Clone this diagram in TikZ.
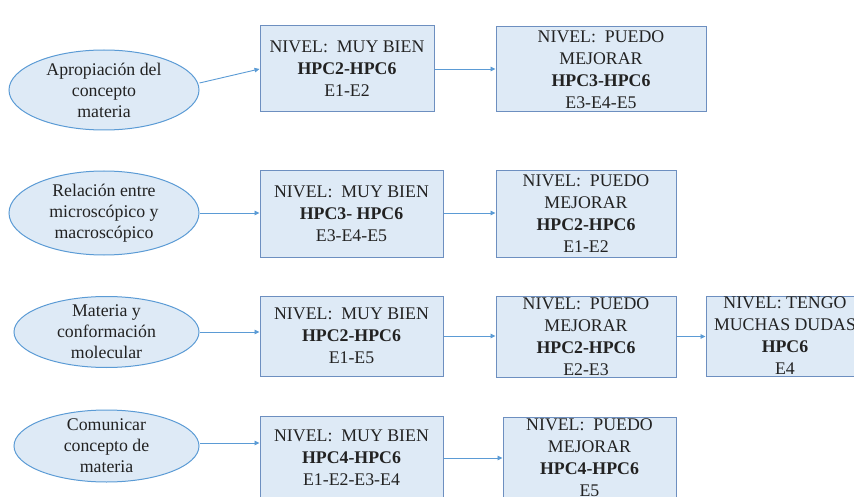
\documentclass[tikz,border=0pt]{standalone}
\usepackage{fontspec}
\setmainfont{Liberation Serif}
\usetikzlibrary{arrows.meta,shapes.geometric}
\definecolor{fillc}{HTML}{DEEAF6}
\definecolor{boxline}{HTML}{6D8FC0}
\definecolor{elline}{HTML}{5B9BD5}
\definecolor{arr}{HTML}{5B9BD5}
\definecolor{txt}{HTML}{222222}
\begin{document}
\begin{tikzpicture}[x=1pt,y=-1pt,
  box/.style={draw=boxline, fill=fillc, line width=1pt, inner sep=0pt, rectangle},
  oval/.style={ellipse, draw=elline, fill=fillc, line width=1pt, inner sep=0pt},
  boxtext/.style={inner sep=0pt, align=center, text=txt, font=\fontsize{17.8}{22}\selectfont},
  ovaltext/.style={inner sep=0pt, align=center, text=txt, font=\fontsize{17.8}{21}\selectfont},
  link/.style={draw=arr, line width=0.9pt, -{Triangle[length=5pt,width=4.5pt]}}]
\useasboundingbox (0,0) rectangle (854,497);
\clip (0,0) rectangle (854,497);

% row 1
\node[oval, minimum width=190pt, minimum height=80pt] (e1) at (104,90) {};
\node[ovaltext] (e1t) at (e1.center) {Apropiación del\\concepto\\materia};
\node[box, minimum width=174pt, minimum height=86pt] (b1) at (347,69) {};
\node[boxtext] (b1t) at (b1.center) {NIVEL:\ \ MUY BIEN\\\textbf{HPC2-HPC6}\\E1-E2};
\node[box, minimum width=210pt, minimum height=85pt] (b2) at (601,69.5) {};
\node[boxtext] (b2t) at (b2.center) {NIVEL:\ \ PUEDO\\MEJORAR\\\textbf{HPC3-HPC6}\\E3-E4-E5};
\draw[link] ([yshift=7pt]e1.east) -- (b1.west);
\draw[link] (b1.east) -- (b1.east -| b2.west);

% row 2
\node[oval, minimum width=190pt, minimum height=84pt] (e2) at (104,213) {};
\node[ovaltext] (e2t) at (e2.center) {Relación entre\\microscópico y\\macroscópico};
\node[box, minimum width=183pt, minimum height=86pt] (b3) at (351.5,214) {};
\node[boxtext] (b3t) at (b3.center) {NIVEL:\ \ MUY BIEN\\\textbf{HPC3- HPC6}\\E3-E4-E5};
\node[box, minimum width=180pt, minimum height=86pt] (b4) at (586,214) {};
\node[boxtext] (b4t) at (b4.center) {NIVEL:\ \ PUEDO\\MEJORAR\\\textbf{HPC2-HPC6}\\E1-E2};
\draw[link] (e2.east) -- (e2.east -| b3.west);
\draw[link] (e2.east -| b3.east) -- (e2.east -| b4.west);

% row 3
\node[oval, minimum width=185pt, minimum height=71pt] (e3) at (106.5,332) {};
\node[ovaltext] (e3t) at (e3.center) {Materia y\\conformación\\molecular};
\node[box, minimum width=183pt, minimum height=80pt] (b5) at (351.5,336) {};
\node[boxtext] (b5t) at (b5.center) {NIVEL:\ \ MUY BIEN\\\textbf{HPC2-HPC6}\\E1-E5};
\node[box, minimum width=180pt, minimum height=81pt] (b6) at (586,336.5) {};
\node[boxtext] (b6t) at (b6.center) {NIVEL:\ \ PUEDO\\MEJORAR\\\textbf{HPC2-HPC6}\\E2-E3};
\node[box, minimum width=158pt, minimum height=80pt] (b7) at (785,336) {};
\node[boxtext] (b7t) at (b7.center) {NIVEL: TENGO\\MUCHAS DUDAS\\\textbf{HPC6}\\E4};
\draw[link] (e3.east) -- (e3.east -| b5.west);
\draw[link] (b5.east) -- (b5.east -| b6.west);
\draw[link] (b6.east) -- (b6.east -| b7.west);

% row 4
\node[oval, minimum width=185pt, minimum height=72pt] (e4) at (106.5,446) {};
\node[ovaltext] (e4t) at (e4.center) {Comunicar\\concepto de\\materia};
\node[box, minimum width=183pt, minimum height=84pt] (b8) at (351.5,458) {};
\node[boxtext] (b8t) at (b8.center) {NIVEL:\ \ MUY BIEN\\\textbf{HPC4-HPC6}\\E1-E2-E3-E4};
\node[box, minimum width=173pt, minimum height=82pt] (b9) at (589.5,458) {};
\node[boxtext] (b9t) at (b9.center) {NIVEL:\ \ PUEDO\\MEJORAR\\\textbf{HPC4-HPC6}\\E5};
\draw[link] ([yshift=3pt]e4.east) -- ([yshift=3pt]e4.east -| b8.west);
\draw[link] (b8.east) -- (b8.east -| b9.west);
\end{tikzpicture}
\end{document}
